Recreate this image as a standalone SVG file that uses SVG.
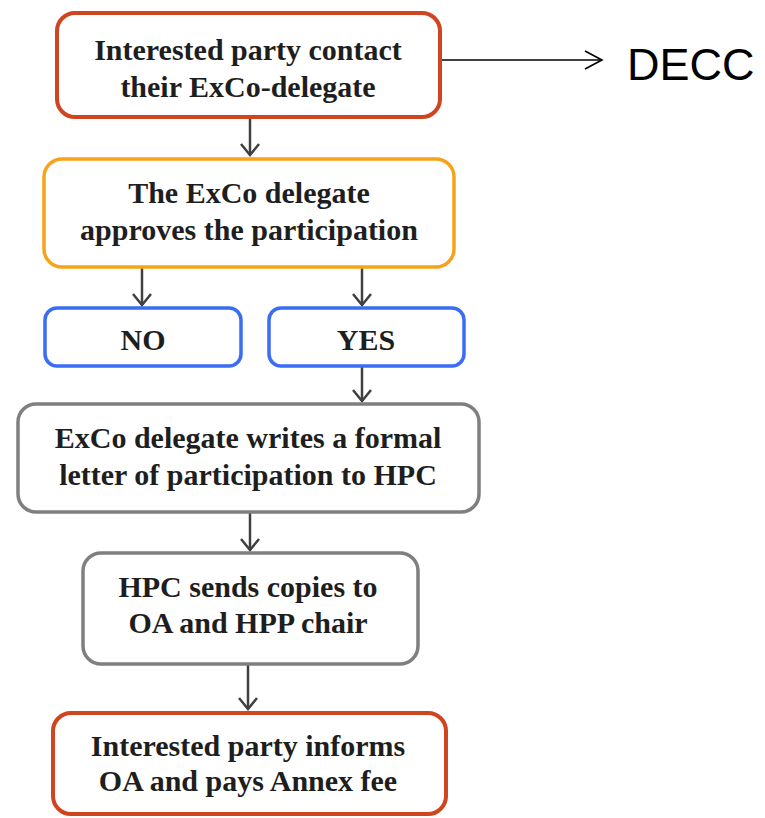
<svg xmlns="http://www.w3.org/2000/svg" width="765" height="818" viewBox="0 0 765 818">
<style>
.box{fill:#fff;}
.t{font-family:"Liberation Serif","Times New Roman",serif;font-weight:bold;font-size:30px;fill:#1e1e1e;text-anchor:middle;}
.c{fill:none;stroke:#404040;stroke-width:2.5;}
</style>
<defs>
<marker id="ah" viewBox="-14 -11 16 22" refX="0" refY="0" markerWidth="16" markerHeight="22" markerUnits="userSpaceOnUse" orient="auto" overflow="visible">
<path d="M-11,-9 L0,0 L-11,9" fill="none" stroke="#404040" stroke-width="2.5"/>
</marker>
<marker id="ahb" viewBox="-19 -11 21 22" refX="0" refY="0" markerWidth="21" markerHeight="22" markerUnits="userSpaceOnUse" orient="auto" overflow="visible">
<path d="M-17,-9 L0,0 L-17,9" fill="none" stroke="#000" stroke-width="1.6"/>
</marker>
</defs>
<rect width="765" height="818" fill="#fff"/>
<g id="connectors">
<line class="c" x1="250" y1="118" x2="250" y2="155" marker-end="url(#ah)"/>
<line class="c" x1="142" y1="268" x2="142" y2="305" marker-end="url(#ah)"/>
<line class="c" x1="362" y1="268" x2="362" y2="305" marker-end="url(#ah)"/>
<line class="c" x1="362" y1="367" x2="362" y2="401" marker-end="url(#ah)"/>
<line class="c" x1="250" y1="513" x2="250" y2="550" marker-end="url(#ah)"/>
<line class="c" x1="248" y1="665" x2="248" y2="709" marker-end="url(#ah)"/>
<line x1="440" y1="60" x2="602" y2="60" stroke="#000" stroke-width="1.6" marker-end="url(#ahb)"/>
</g>
<g id="n1">
<rect class="box" x="57" y="13" width="383" height="104" rx="18" stroke="#cf4520" stroke-width="4"/>
<text class="t" x="248" y="60">Interested party contact</text>
<text class="t" x="248" y="97">their ExCo-delegate</text>
</g>
<g id="n2">
<rect class="box" x="44" y="159" width="410" height="108" rx="18" stroke="#f7a21b" stroke-width="3.5"/>
<text class="t" x="249" y="203">The ExCo delegate</text>
<text class="t" x="249" y="240">approves the participation</text>
</g>
<g id="n3">
<rect class="box" x="45" y="308" width="196" height="58" rx="12" stroke="#3a6cf5" stroke-width="3.5"/>
<text class="t" x="143" y="350">NO</text>
</g>
<g id="n4">
<rect class="box" x="269" y="308" width="195" height="58" rx="12" stroke="#3a6cf5" stroke-width="3.5"/>
<text class="t" x="366" y="350">YES</text>
</g>
<g id="n5">
<rect class="box" x="18" y="404" width="461" height="108" rx="18" stroke="#7f7f7f" stroke-width="3.5"/>
<text class="t" x="248" y="448">ExCo delegate writes a formal</text>
<text class="t" x="248" y="485">letter of participation to HPC</text>
</g>
<g id="n6">
<rect class="box" x="83" y="553" width="335" height="111" rx="18" stroke="#7f7f7f" stroke-width="3.5"/>
<text class="t" x="248" y="597">HPC sends copies to</text>
<text class="t" x="248" y="633">OA and HPP chair</text>
</g>
<g id="n7">
<rect class="box" x="53" y="713" width="393" height="101" rx="18" stroke="#cf4520" stroke-width="4"/>
<text class="t" x="248" y="756">Interested party informs</text>
<text class="t" x="248" y="791">OA and pays Annex fee</text>
</g>
<g id="decc">
<text x="627" y="80" font-family="Liberation Sans, Arial, sans-serif" font-size="45" fill="#000">DECC</text>
</g>
</svg>
